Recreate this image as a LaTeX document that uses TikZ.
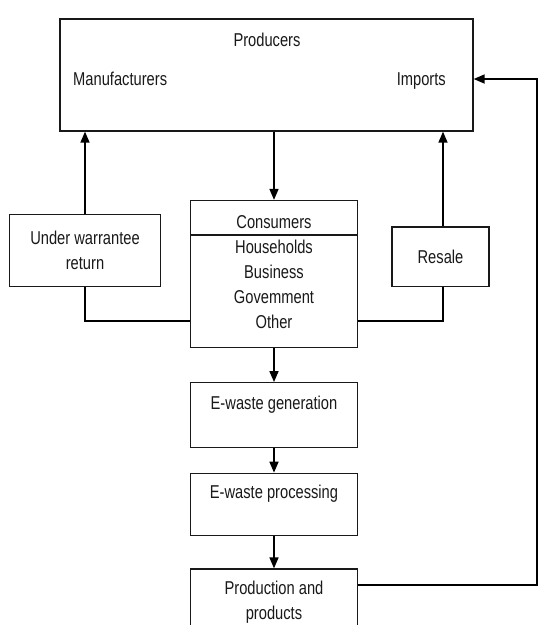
\documentclass[tikz,border=0pt]{standalone}
\usepackage{fontspec}
\setmainfont{Liberation Sans}[FakeStretch=0.79]
\usetikzlibrary{arrows.meta}
\begin{document}
\begin{tikzpicture}[x=1pt,y=-1pt,
  box/.style={draw=black!90, line width=1.3pt, inner sep=0pt, align=center,
    font=\fontsize{18.6}{25}\selectfont, text=black!90},
  txt/.style={inner sep=0pt, align=center, font=\fontsize{18.6}{25}\selectfont, text=black!90},
  link/.style={line width=1.7pt},
  arr/.style={link, -{Triangle[length=11pt,width=9pt]}}]
\useasboundingbox (0,0) rectangle (551,625);
\clip (0,0) rectangle (551,625);
\fill[white] (0,0) rectangle (551,625);
% Producers
\node[box, minimum width=413pt, minimum height=112pt] (prod) at (266.5,75) {};
\node[txt, anchor=base] (prodt) at (267,46.5) {Producers};
\node[txt, anchor=base west] (manu) at (73,85.5) {Manufacturers};
\node[txt, anchor=base east] (imp) at (446,85.5) {Imports};
% second row
\node[box, minimum width=151.5pt, minimum height=72pt] (uw) at (85,250.6) {Under warrantee\\return};
\node[box, minimum width=167pt, minimum height=147pt] (cons) at (274,274) {};
\coordinate (divl) at (190.5,235);
\coordinate (divr) at (357.5,235);
\draw[draw=black!90, line width=1.3pt] (divl) -- (divr);
\node[txt, anchor=base] (consh) at (274,228.5) {Consumers};
\node[txt] (consb) at (274,284.5) {Households\\Business\\Govemment\\Other};
\node[box, minimum width=97pt, minimum height=59.6pt] (res) at (440.5,256.8) {Resale};
% column
\node[box, minimum width=167pt, minimum height=64.6pt] (gen) at (274,415) {E-waste generation\\~};
\node[box, minimum width=167pt, minimum height=62.4pt] (proc) at (274,504.5) {E-waste processing\\~};
\node[box, minimum width=167pt, minimum height=66pt] (pp) at (274,602) {Production and\\products};
% connectors
\coordinate (resn) at (443,227);
\draw[arr] (prod.south -| cons.north) -- (cons.north);
\draw[arr] (uw.north) -- (uw.north |- prod.south);
\draw[arr] (resn |- res.north) -- (resn |- prod.south);
\coordinate (uwc) at (85,321);
\coordinate (resc) at (443,321);
\draw[link] (uw.south) -- (uwc) -- (uwc -| cons.west);
\draw[link] (resc |- res.south) -- (resc) -- (resc -| cons.east);
\draw[arr] (cons.south) -- (gen.north);
\draw[arr] (gen.south) -- (proc.north);
\draw[arr] (proc.south) -- (pp.north);
\coordinate (fbb) at (537,585);
\coordinate (fbt) at (537,79);
\draw[arr] (pp.east |- fbb) -- (fbb) -- (fbt) -- (fbt -| prod.east);
\end{tikzpicture}
\end{document}
